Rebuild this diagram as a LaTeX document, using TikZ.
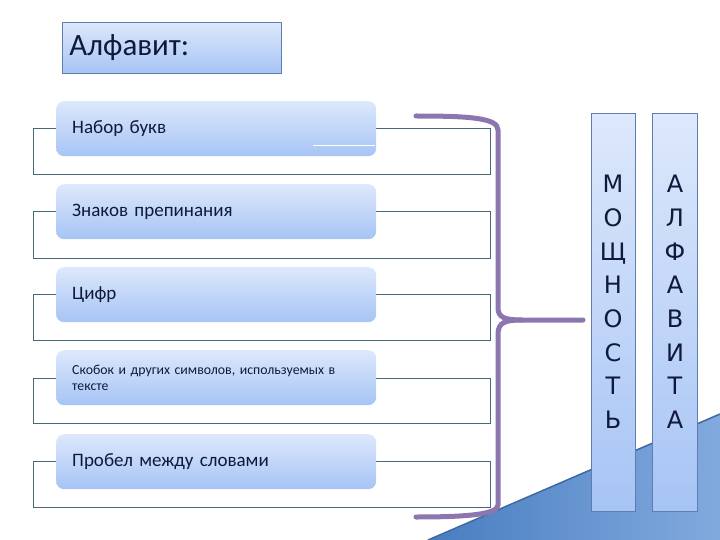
\documentclass[tikz,border=0pt]{standalone}
\usepackage{fontspec}
\setmainfont{Carlito}
\newfontfamily\dvfont{DejaVu Sans}
\definecolor{boxtop}{RGB}{221,232,251}
\definecolor{boxbot}{RGB}{166,196,245}
\definecolor{rowline}{RGB}{70,105,115}
\definecolor{bracecol}{RGB}{140,118,176}
\definecolor{colborder}{RGB}{95,125,175}
\definecolor{textcol}{RGB}{15,25,60}
\definecolor{wedgedark}{RGB}{72,125,192}
\definecolor{wedgelight}{RGB}{130,170,222}
\tikzset{
  itembox/.style={rounded corners=8pt, top color=boxtop, bottom color=boxbot, draw=none,
    minimum width=320pt, minimum height=55pt, text width=288pt, align=left,
    font=\fontsize{19}{21}\selectfont, text=textcol, inner sep=0pt, anchor=north west},
  rowrect/.style={draw=rowline, line width=0.8pt},
  colbox/.style={top color=boxtop, bottom color=boxbot, draw=colborder, line width=0.8pt,
    minimum height=398pt, inner sep=0pt, anchor=north west},
  letter/.style={font=\dvfont\fontsize{24}{24}\selectfont, text=textcol, inner sep=0pt,
    text height=17.5pt, text depth=0pt},
  brace/.style={draw=bracecol, line width=5pt, line cap=round, line join=round},
}
\begin{document}
\begin{tikzpicture}[x=1pt,y=-1pt]
\path[use as bounding box] (0,0) rectangle (720,540);
% background wedge
\fill[left color=wedgedark, right color=wedgelight] (428,540) -- (720,414) -- (720,540) -- cycle;
\draw[wedgedark!85!black, line width=1.5pt] (428,540) -- (720,414);
% title
\node[top color=boxtop, bottom color=boxbot, draw=colborder, line width=0.8pt,
  minimum width=219pt, minimum height=51pt, text width=205pt, align=left, inner sep=0pt,
  anchor=north west, font=\fontsize{31}{32}\selectfont, text=textcol] (title) at (62,22) {Алфавит:};
% rows
\draw[rowrect] (33,128) rectangle (490,174);
\node[itembox] (r1) at (56,101) {Набор букв};
\draw[white, line width=1pt] (313,146) -- (375,146);
\draw[rowrect] (33,211) rectangle (490,258);
\node[itembox] (r2) at (56,184) {Знаков препинания};
\draw[rowrect] (33,294) rectangle (490,340);
\node[itembox] (r3) at (56,267) {Цифр};
\draw[rowrect] (33,378) rectangle (490,423);
\node[itembox, font=\fontsize{13.8}{16}\selectfont] (r4) at (56,350) {Скобок и других символов, используемых в\\тексте};
\draw[rowrect] (33,461) rectangle (490,507);
\node[itembox] (r5) at (56,434) {Пробел между словами};
% columns
\node[colbox, minimum width=44pt] (c1) at (591,113) {};
\node[colbox, minimum width=45pt] (c2) at (652,113) {};
\foreach \l [count=\i] in {М,О,Щ,Н,О,С,Т,Ь}
  \node[letter] (m\i) at (613,{184+33.7*(\i-1)}) {\l};
\foreach \l [count=\i] in {А,Л,Ф,А,В,И,Т,А}
  \node[letter] (a\i) at (675,{184+33.7*(\i-1)}) {\l};
% brace
\coordinate (tip) at (583,320);
\draw[brace] (416,116) .. controls (470,116) and (498,118) .. (498,130) -- (498,308)
  .. controls (498,318) and (506,320) .. (522,320) -- (tip);
\draw[brace] (522,320) .. controls (506,320) and (498,322) .. (498,334) -- (498,505)
  .. controls (498,514) and (470,517) .. (416,517);
\end{tikzpicture}
\end{document}
